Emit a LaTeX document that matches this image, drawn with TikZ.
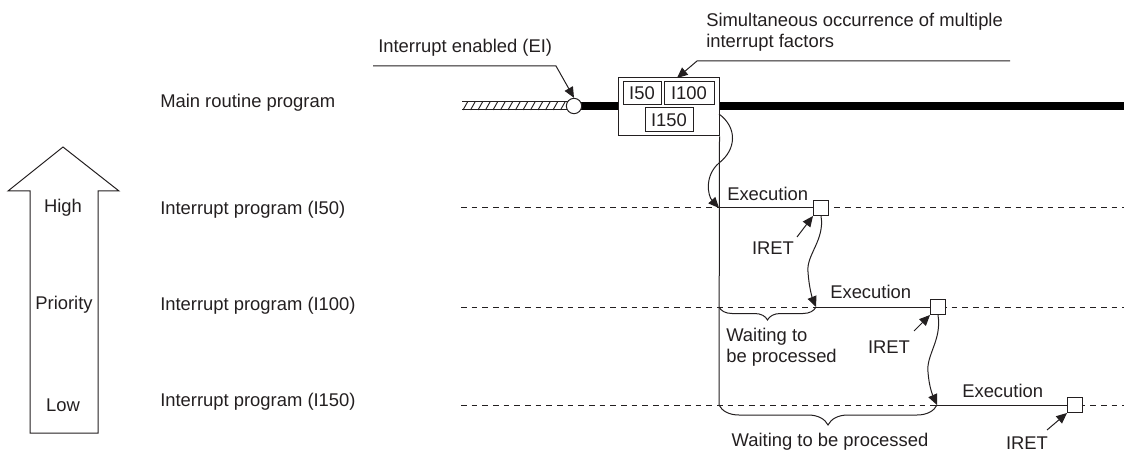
\documentclass[tikz,border=0pt]{standalone}
\usepackage{fontspec}
\setmainfont{Liberation Sans}
\usetikzlibrary{arrows.meta,decorations.pathreplacing}
\definecolor{ink}{RGB}{35,31,32}
\begin{document}
\begin{tikzpicture}[x=0.75pt,y=-0.75pt,
  font=\fontsize{13.8}{15.8}\selectfont,
  thinl/.style={line width=0.75pt, draw=ink},
  tipa/.style={-{Triangle[length=8pt,width=7pt]}},
  lbl/.style={text=ink, inner sep=0pt, anchor=west},
  ctr/.style={text=ink, inner sep=0pt},
  sq/.style={draw=ink, fill=white, minimum size=11.25pt, inner sep=0pt, line width=0.75pt},
  ibox/.style={draw=ink, fill=white, inner sep=0pt, line width=0.75pt, text=ink},
  dashline/.style={draw=ink, line width=0.75pt, dash pattern=on 4.2pt off 3.8pt},
  brc/.style={decorate, decoration={brace, mirror, amplitude=#1}, line width=0.75pt, draw=ink}
]
\useasboundingbox (0,0) rectangle (1124,452);

% priority arrow
\draw[thinl] (30,433) -- (98,433) -- (98,191) -- (119,191) -- (63,147) -- (8,191) -- (30,191) -- cycle;
\node[ctr] (high) at (63,208) {High};
\node[ctr] (prio) at (64,305) {Priority};
\node[ctr] (low) at (63,405) {Low};

% left labels
\node[lbl] (lmain) at (160,103) {Main routine program};
\node[lbl] (l50) at (160,210) {Interrupt program (I50)};
\node[lbl] (l100) at (160,306) {Interrupt program (I100)};
\node[lbl] (l150) at (160,402) {Interrupt program (I150)};

% dashed lines
\coordinate (d50s) at (461,208);  \coordinate (d50e) at (1124,208);
\coordinate (d100s) at (461,307); \coordinate (d100e) at (1124,307);
\coordinate (d150s) at (461,405); \coordinate (d150e) at (1124,405);
\draw[dashline] (d50s) -- (d50e);
\draw[dashline] (d100s) -- (d100e);
\draw[dashline] (d150s) -- (d150e);

% main routine line
\coordinate (cc) at (574,106);
\coordinate (mend) at (1124,106);
\coordinate (bw) at (618,106);
\draw[line width=6pt, draw=black] (cc) -- (bw);
\draw[line width=6pt, draw=black] (719,106) -- (mend);
\draw[line width=0.75pt, draw=ink] (462,102) -- (568,102);
\draw[line width=0.75pt, draw=ink] (462,110) -- (568,110);
\foreach \i in {0,...,13} {
  \draw[line width=0.7pt, draw=ink] (463+7.5*\i,110) -- (467.5+7.5*\i,102);
}
\node[draw=ink, fill=white, line width=0.75pt, circle, minimum size=11.5pt, inner sep=0pt] (circ) at (cc) {};
\node[ibox, minimum width=75.75pt, minimum height=43.5pt] (box) at (668.5,107) {};
\node[ibox, minimum width=28.5pt, minimum height=17.25pt] (b50) at (642,93.5) {I50};
\node[ibox, minimum width=37.5pt, minimum height=17.25pt] (b100) at (689,93.5) {I100};
\node[ibox, minimum width=36pt, minimum height=18pt] (b150) at (669,120) {I150};

% top labels
\node[lbl] (tei) at (378,48) {Interrupt enabled (EI)};
\coordinate (ei1) at (373,66);
\coordinate (ei2) at (556,66);
\draw[thinl, tipa] (ei1) -- (ei2) -- (circ.north);
\node[lbl, align=left] (tsim) at (706,32.5) {Simultaneous occurrence of multiple\\interrupt factors};
\coordinate (s1) at (1010,61);
\coordinate (s2) at (697,61);
\coordinate (s3) at (677,78);
\draw[thinl, tipa] (s1) -- (s2) -- (s3);

% vertical line
\coordinate (vbot) at (719,405);
\draw[thinl] (box.south east) -- (vbot);

% squares and execution lines
\coordinate (x50) at (719,208);
\coordinate (x100) at (816,307);
\coordinate (x150) at (937,405);
\node[sq] (sq50) at (821,208) {};
\node[sq] (sq100) at (938,307) {};
\node[sq] (sq150) at (1075,405) {};
\draw[thinl] (x50) -- (sq50.west);
\draw[thinl] (x100) -- (sq100.west);
\draw[thinl] (x150) -- (sq150.west);

\node[lbl] (e50) at (727,194) {Execution};
\node[lbl] (e100) at (830,292) {Execution};
\node[lbl] (e150) at (962,391) {Execution};

% curved transfer arrows
\coordinate (c0) at (719,114);
\draw[thinl, tipa] (c0) .. controls (738,128) and (736,150) .. (719,163)
  .. controls (704,176) and (708,196) .. (x50);
\draw[thinl, tipa] (sq50.south) .. controls (825,240) and (806,255) .. (808,272)
  .. controls (809,287) and (812,297) .. (x100);
\draw[thinl, tipa] (sq100.south) .. controls (942,340) and (926,355) .. (928,372)
  .. controls (929,387) and (933,396) .. (x150);

% IRET
\node[ctr] (r50) at (773,248) {IRET};
\node[ctr] (r100) at (889,347) {IRET};
\node[ctr] (r150) at (1027,443) {IRET};
\coordinate (ra50) at (797,237);
\coordinate (ra100) at (914,331);
\coordinate (ra150) at (1047,430);
\draw[thinl, tipa] (ra50) -- (sq50.south west);
\draw[thinl, tipa] (ra100) -- (sq100.south west);
\draw[thinl, tipa] (ra150) -- (sq150.south west);

% braces
\coordinate (w100s) at (719,307);
\coordinate (w150s) at (719,405);
\draw[brc=9.75pt] (w100s) -- (x100);
\draw[brc=15pt] (w150s) -- (x150);
\node[lbl, align=left] (wt100) at (726,347.5) {Waiting to\\be processed};
\node[ctr] (wt150) at (830,442) {Waiting to be processed};
\end{tikzpicture}
\end{document}
